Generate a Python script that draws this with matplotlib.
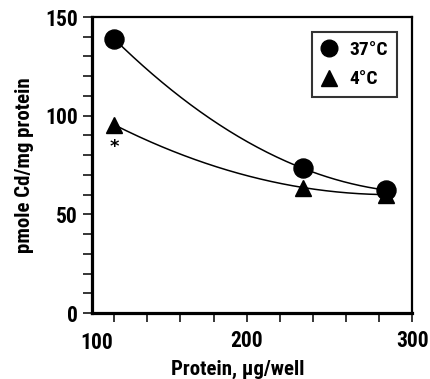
import matplotlib
matplotlib.use("Agg")
import matplotlib.pyplot as plt
from matplotlib import font_manager
from matplotlib.lines import Line2D
import numpy as np

# data
protein = [120, 234, 284]          # ug/well
cd_37 = [138.9, 73.3, 62.3]        # pmole Cd/mg protein, 37 C
cd_4 = [95.4, 63.6, 60.0]          # 4 C
star_x, star_y = 120, 84.3         # asterisk under first 4 C point

# narrow helvetica-like face if there is one (needs a bold cut)
bold_names = set(f.name for f in font_manager.fontManager.ttflist
                 if f.weight in (600, 700, "bold", "semibold"))
fam = "DejaVu Sans"
for cand in ["Liberation Sans Narrow", "Roboto Condensed", "PT Sans Narrow",
             "Archivo Narrow", "Open Sans Condensed", "Arimo"]:
    if cand in bold_names:
        fam = cand
        break
plt.rcParams["font.family"] = [fam, "DejaVu Sans"]
plt.rcParams["font.weight"] = "bold"
plt.rcParams["axes.labelweight"] = "bold"

fig = plt.figure(figsize=(4.30, 3.79), dpi=100)
ax = fig.add_axes([0.2147, 0.1741, 0.9588 - 0.2147, 0.9551 - 0.1741])

# smooth curves (quadratic through the points)
xs = np.linspace(protein[0], protein[-1], 200)
for ys in (cd_37, cd_4):
    c = np.polyfit(protein, ys, 2)
    ax.plot(xs, np.polyval(c, xs), color="black", lw=1.1, zorder=2)

ax.plot(protein, cd_37, "o", color="black", ms=13.7, zorder=3, clip_on=False)
ax.plot(protein, cd_4, "^", color="black", ms=12.2, zorder=3, clip_on=False)
ax.text(star_x, star_y, "*", ha="center", va="center", fontsize=13,
        fontweight="bold", family="DejaVu Sans")

ax.set_xlim(106.8, 300)
ax.set_ylim(0, 150)
ax.set_xticks([200, 300])
ax.set_xticks(np.arange(120, 300, 20), minor=True)
ax.set_yticks([0, 50, 100, 150])
ax.set_yticks(np.arange(10, 150, 10), minor=True)
ax.tick_params(which="both", direction="out", length=6.5, width=1.1, labelsize=15.5)
ax.tick_params(axis="x", which="both", pad=6)
ax.tick_params(axis="y", which="both", pad=4)
ax.text(109.5, -0.065, "100", transform=ax.get_xaxis_transform(), ha="center", va="top", fontsize=15.5)

for side in ["left", "bottom"]:
    ax.spines[side].set_linewidth(2.3)
for side in ["top", "right"]:
    ax.spines[side].set_linewidth(1.6)

ax.set_xlabel("Protein, \u03bcg/well", fontsize=15, labelpad=5.5, x=0.453)
ax.set_ylabel("pmole Cd/mg protein", fontsize=15, labelpad=8)

handles = [Line2D([], [], marker="o", ls="none", color="black", ms=12, label="37\u00b0C"),
           Line2D([], [], marker="^", ls="none", color="black", ms=11, label="4\u00b0C")]
leg = ax.legend(handles=handles, loc="upper right", bbox_to_anchor=(397 / 430, 1 - 32 / 379),
                bbox_transform=fig.transFigure, borderaxespad=0,
                fontsize=14, frameon=True, fancybox=False, edgecolor="black",
                handletextpad=0.6, borderpad=0.45, labelspacing=0.6, handlelength=0.9)
leg.get_frame().set_linewidth(1.5)

fig.savefig("out.png", dpi=100)
